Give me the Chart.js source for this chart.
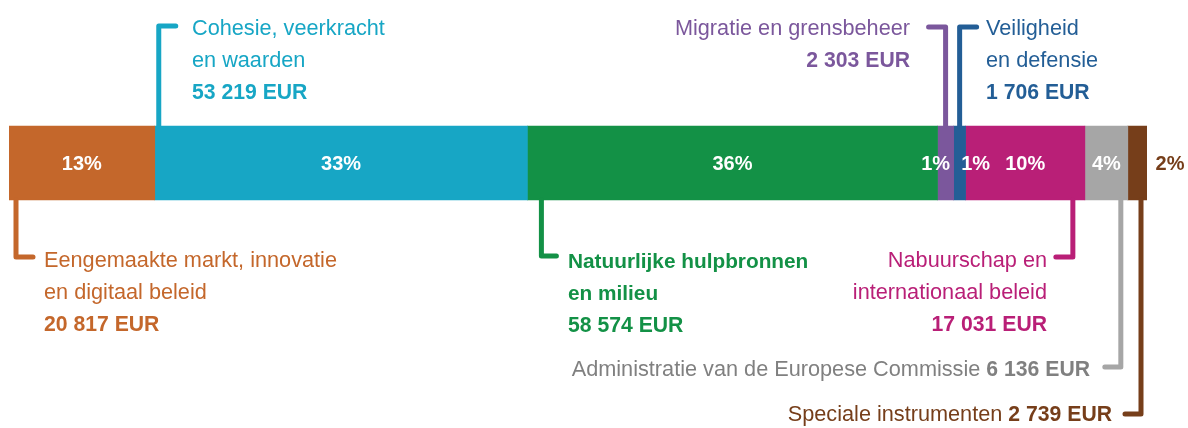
<!DOCTYPE html>
<html>
<head>
<meta charset="utf-8">
<script src="https://cdn.jsdelivr.net/npm/chart.js@4/dist/chart.umd.min.js"></script>
<style>
html,body{margin:0;padding:0;background:#fff;}
#wrap{width:1188px;height:428px;}
</style>
</head>
<body>
<div id="wrap"><canvas id="c" width="1188" height="428"></canvas></div>
<script>
// ---- data ----
const categories = [
  "Eengemaakte markt, innovatie en digitaal beleid",
  "Cohesie, veerkracht en waarden",
  "Natuurlijke hulpbronnen en milieu",
  "Migratie en grensbeheer",
  "Veiligheid en defensie",
  "Nabuurschap en internationaal beleid",
  "Administratie van de Europese Commissie",
  "Speciale instrumenten"
];
const values = [20817, 53219, 58574, 2303, 1706, 17031, 6136, 2739];
const percentLabels = ["13%", "33%", "36%", "1%", "1%", "10%", "4%", "2%"];
const labelLines = [
  ["Eengemaakte markt, innovatie", "en digitaal beleid"],
  ["Cohesie, veerkracht", "en waarden"],
  ["Natuurlijke hulpbronnen", "en milieu"],
  ["Migratie en grensbeheer"],
  ["Veiligheid", "en defensie"],
  ["Nabuurschap en", "internationaal beleid"],
  ["Administratie van de Europese Commissie"],
  ["Speciale instrumenten"]
];
const colors = ["#C4672B", "#17A6C5", "#139146", "#7B579C", "#235E96", "#B91F77", "#A6A6A6", "#763E1A"];
const textColors = ["#C4672B", "#17A6C5", "#139146", "#7B579C", "#235E96", "#B91F77", "#808080", "#763E1A"];

// ---- helpers ----
const total = values.reduce((a, b) => a + b, 0);
const fmt = v => String(v).replace(/\B(?=(\d{3})+(?!\d))/g, ' ') + ' EUR';
const FONT = '"Liberation Sans", Arial, sans-serif';

// layout of the annotations (positions / styles)
const annot = [
  {side:'bottom', ref:'start', off:7,   bend:257, hook:17,  tx:44,   align:'left',  base:267, boldAll:false},
  {side:'top',    ref:'start', off:4,   bend:26,  hook:17,  tx:192,  align:'left',  base:35,  boldAll:false},
  {side:'bottom', ref:'start', off:14,  bend:256, hook:15,  tx:568,  align:'left',  base:268, boldAll:true},
  {side:'top',    ref:'mid',   off:0,   bend:27,  hook:-17, tx:910,  align:'right', base:35,  boldAll:false},
  {side:'top',    ref:'mid',   off:0,   bend:27,  hook:17,  tx:986,  align:'left',  base:35,  boldAll:false},
  {side:'bottom', ref:'end',   off:-12, bend:257, hook:-17, tx:1047, align:'right', base:267, boldAll:false},
  {side:'bottom', ref:'end',   off:-7,  bend:367, hook:-16, tx:1090, align:'right', base:376, inline:true},
  {side:'bottom', ref:'end',   off:-6,  bend:414, hook:-16, tx:1112, align:'right', base:421, inline:true}
];
const pctOffset = [0, 0, 0, -10, 16, 0, 0, null];

const leaderPlugin = {
  id: 'leaders',
  afterDatasetsDraw(chart) {
    const ctx = chart.ctx;
    ctx.save();
    values.forEach((v, i) => {
      const el = chart.getDatasetMeta(i).data[0];
      const p = el.getProps(['x', 'y', 'base', 'height'], true);
      const x0 = Math.min(p.x, p.base), x1 = Math.max(p.x, p.base);
      const top = p.y - p.height / 2, bot = p.y + p.height / 2;
      const a = annot[i];
      // percentage label
      ctx.font = 'bold 20px ' + FONT;
      ctx.textBaseline = 'middle';
      ctx.textAlign = 'center';
      if (pctOffset[i] === null) {
        ctx.fillStyle = textColors[i];
        ctx.fillText(percentLabels[i], x1 + 23, p.y + 1);
      } else {
        ctx.fillStyle = '#ffffff';
        ctx.fillText(percentLabels[i], (x0 + x1) / 2 + pctOffset[i], p.y + 1);
      }
      // leader line
      let lx = a.ref === 'start' ? x0 + a.off : a.ref === 'end' ? x1 + a.off : (x0 + x1) / 2;
      ctx.strokeStyle = colors[i];
      ctx.lineWidth = 5;
      ctx.lineCap = 'round';
      ctx.lineJoin = 'round';
      ctx.beginPath();
      ctx.moveTo(lx, a.side === 'top' ? top : bot);
      ctx.lineTo(lx, a.bend);
      ctx.lineTo(lx + a.hook, a.bend);
      ctx.stroke();
      // text
      ctx.fillStyle = textColors[i];
      ctx.textBaseline = 'alphabetic';
      const normal = '21.7px ' + FONT, bold = 'bold 21.2px ' + FONT, boldLine = 'bold 20.8px ' + FONT;
      if (a.inline) {
        ctx.textAlign = 'right';
        ctx.font = bold;
        const amt = fmt(v);
        const bw = ctx.measureText(amt).width;
        ctx.fillText(amt, a.tx, a.base);
        ctx.font = normal;
        const sw = ctx.measureText(' ').width;
        ctx.fillText(labelLines[i][0], a.tx - bw - sw, a.base);
      } else {
        ctx.textAlign = a.align;
        const lines = labelLines[i];
        const lh = 32;
        lines.forEach((t, k) => {
          ctx.font = a.boldAll ? boldLine : normal;
          ctx.fillText(t, a.tx, a.base + k * lh);
        });
        ctx.font = bold;
        ctx.fillText(fmt(v), a.tx, a.base + lines.length * lh);
      }
    });
    ctx.restore();
  }
};

Chart.defaults.font.family = FONT;
new Chart(document.getElementById('c'), {
  type: 'bar',
  data: {
    labels: ['Budget'],
    datasets: categories.map((c, i) => ({
      label: c,
      data: [values[i]],
      backgroundColor: colors[i],
      borderWidth: 0,
      barThickness: 74
    }))
  },
  options: {
    indexAxis: 'y',
    responsive: false,
    animation: false,
    layout: {padding: {left: 9, right: 41, top: 100, bottom: 202}},
    scales: {
      x: {stacked: true, min: 0, max: total, display: false},
      y: {stacked: true, display: false}
    },
    plugins: {legend: {display: false}, tooltip: {enabled: false}}
  },
  plugins: [leaderPlugin]
});
</script>
</body>
</html>
